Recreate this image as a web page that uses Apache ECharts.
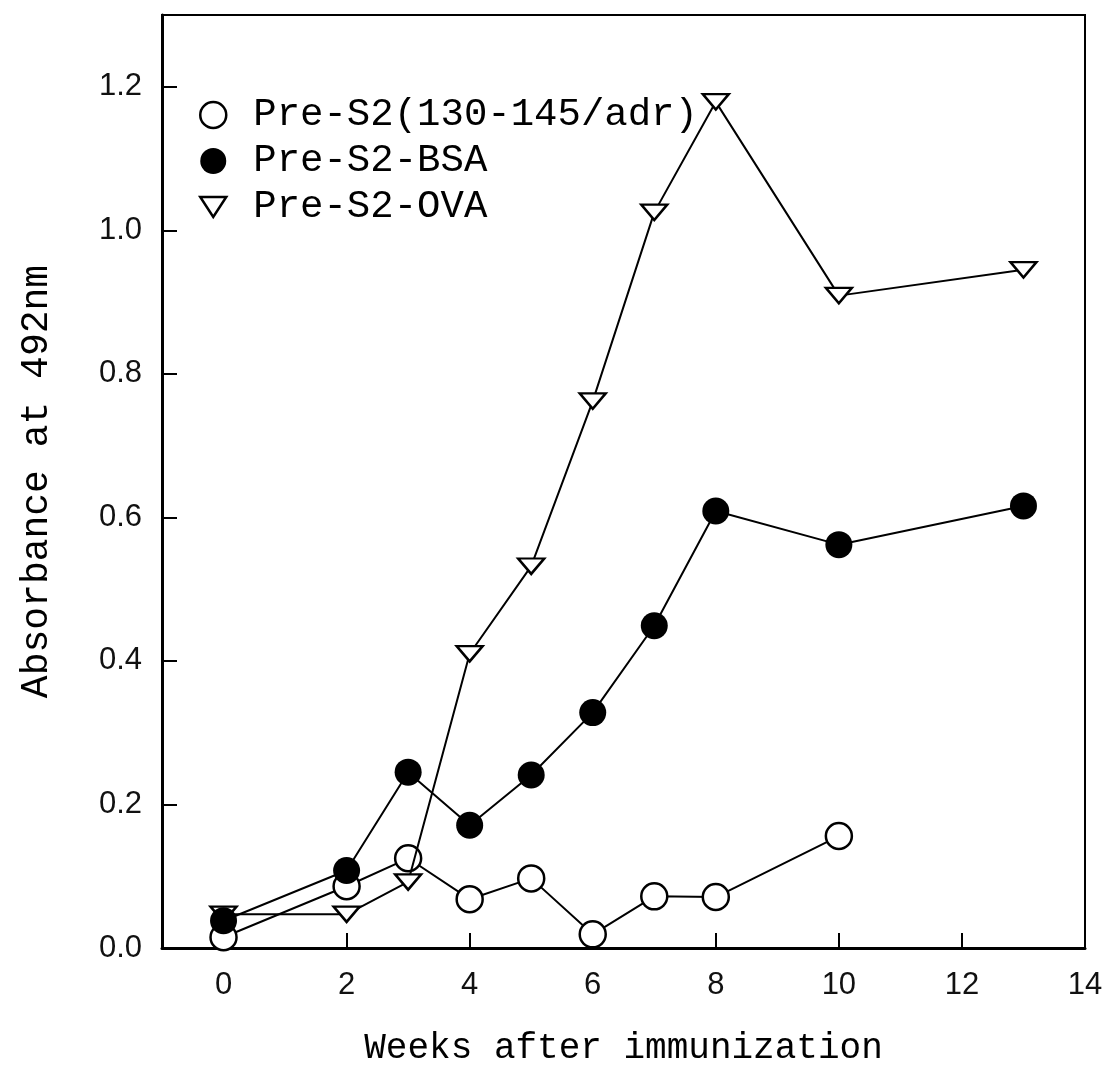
<!DOCTYPE html>
<html>
<head>
<meta charset="utf-8">
<title>Absorbance</title>
<style>
  html, body { margin: 0; padding: 0; background: #fff; }
  #main { width: 1118px; height: 1075px; }
</style>
</head>
<body>
<div id="main"></div>
<script src="https://cdn.jsdelivr.net/npm/echarts@6/dist/echarts.min.js"></script>
<script>
// weeks after immunization
var weeksShort = [0, 2, 3, 4, 5, 6, 7, 8, 10];
var weeksLong = [0, 2, 3, 4, 5, 6, 7, 8, 10, 13];

var preS2 = [0.015, 0.086, 0.125, 0.068, 0.097, 0.019, 0.072, 0.071, 0.156];
var preS2BSA = [0.038, 0.108, 0.245, 0.171, 0.241, 0.328, 0.449, 0.609, 0.562, 0.616];
var preS2OVA = [0.047, 0.047, 0.092, 0.410, 0.532, 0.762, 1.025, 1.179, 0.909, 0.945];

var xTicks = [0, 2, 4, 6, 8, 10, 12, 14];
var yTicks = [0, 0.2, 0.4, 0.6, 0.8, 1.0, 1.2];

var names = ['Pre-S2(130-145/adr)', 'Pre-S2-BSA', 'Pre-S2-OVA'];

function pairs(xs, ys) {
    return ys.map(function (y, i) { return [xs[i], y]; });
}

var triangleDown = 'path://M0,0 L26,0 L13,20 Z';
var textFont = '"Liberation Mono", "DejaVu Sans Mono", monospace';

var myChart = echarts.init(document.getElementById('main'));

option = {
    backgroundColor: '#fff',
    animation: false,
    grid: {
        left: 162,
        right: 33,
        top: 15,
        bottom: 127,
        show: true,
        borderColor: '#000',
        borderWidth: 2
    },
    legend: {
        orient: 'vertical',
        left: 194,
        top: 90,
        itemWidth: 26,
        itemHeight: 26,
        itemGap: 6,
        textStyle: {
            fontFamily: textFont,
            fontSize: 39,
            lineHeight: 40,
            color: '#000',
            padding: [0, 0, 0, 22]
        },
        data: [
            { name: names[0], icon: 'circle', itemStyle: { color: '#fff', borderColor: '#000', borderWidth: 2.5 } },
            { name: names[1], icon: 'circle', itemStyle: { color: '#000', borderWidth: 0 } },
            { name: names[2], icon: triangleDown, itemStyle: { color: '#fff', borderColor: '#000', borderWidth: 2.5 } }
        ]
    },
    xAxis: {
        type: 'value',
        min: -1,
        max: 14,
        name: 'Weeks after immunization',
        nameLocation: 'middle',
        nameGap: 82,
        nameTextStyle: { fontFamily: textFont, fontSize: 36, color: '#000' },
        axisLine: { show: true, onZero: false, lineStyle: { color: '#000', width: 3 } },
        axisTick: { inside: true, length: 15, customValues: xTicks, lineStyle: { color: '#000', width: 2 } },
        axisLabel: {
            customValues: xTicks,
            margin: 22,
            fontFamily: '"Liberation Sans", Arial, sans-serif',
            fontSize: 31,
            color: '#111'
        },
        splitLine: { show: false }
    },
    yAxis: {
        type: 'value',
        min: 0,
        max: 1.3,
        name: 'Absorbance at 492nm',
        nameLocation: 'middle',
        nameGap: 106,
        nameTextStyle: { fontFamily: textFont, fontSize: 38, color: '#000' },
        axisLine: { show: true, onZero: false, lineStyle: { color: '#000', width: 3 } },
        axisTick: { inside: true, length: 15, customValues: yTicks, lineStyle: { color: '#000', width: 2 } },
        axisLabel: {
            customValues: yTicks,
            margin: 20,
            fontFamily: '"Liberation Sans", Arial, sans-serif',
            fontSize: 31,
            color: '#111',
            formatter: function (v) { return v.toFixed(1); }
        },
        splitLine: { show: false }
    },
    series: [{
        name: names[0],
        type: 'line',
        data: pairs(weeksShort, preS2),
        symbol: 'circle',
        symbolSize: 26,
        lineStyle: { color: '#000', width: 2 },
        itemStyle: { color: '#fff', borderColor: '#000', borderWidth: 2.5 },
        z: 2
    }, {
        name: names[2],
        type: 'line',
        data: pairs(weeksLong, preS2OVA),
        symbol: triangleDown,
        symbolSize: [26, 20],
        symbolKeepAspect: true,
        lineStyle: { color: '#000', width: 2 },
        itemStyle: { color: '#fff', borderColor: '#000', borderWidth: 2.5 },
        z: 3
    }, {
        name: names[1],
        type: 'line',
        data: pairs(weeksLong, preS2BSA),
        symbol: 'circle',
        symbolSize: 27,
        lineStyle: { color: '#000', width: 2 },
        itemStyle: { color: '#000', borderWidth: 0 },
        z: 4
    }]
};
myChart.setOption(option);
</script>
</body>
</html>
